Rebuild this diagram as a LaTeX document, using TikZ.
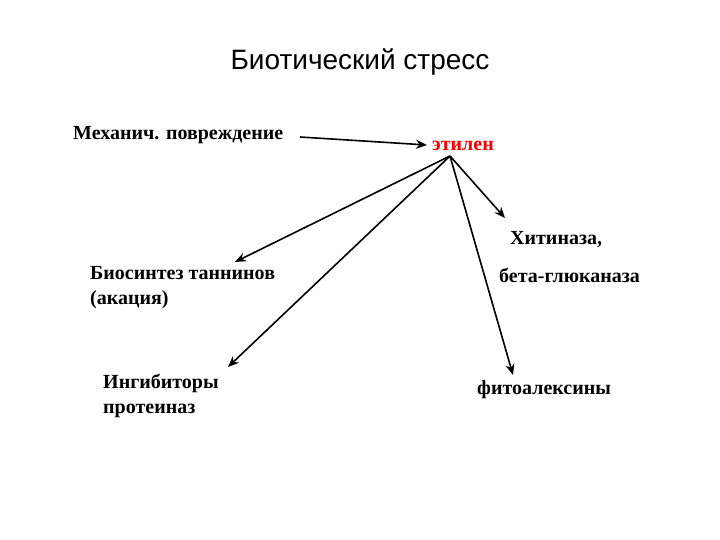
\documentclass[tikz,border=0pt]{standalone}
\usepackage{fontspec}
\setmainfont{Liberation Serif}
\newfontfamily\arialf{Liberation Sans}
\usetikzlibrary{arrows.meta}
\begin{document}
\begin{tikzpicture}[x=1pt,y=-1pt,
  lbl/.style={font=\bfseries\fontsize{20}{25}\selectfont,inner sep=0pt,anchor=west,align=left},
  arr/.style={line width=1.6pt,-{Stealth[length=11pt,width=9pt]}}]
\useasboundingbox (0,0) rectangle (720,540);
\node[font=\arialf\fontsize{28}{32}\selectfont] (t) at (360,62) {Биотический стресс};
\node[lbl] (m) at (73,135) {Механич. повреждение};
\node[lbl,text=red] (e) at (432,146) {этилен};
\coordinate (o) at (450,156);
\coordinate (ms) at (300,137);
\coordinate (me) at (427,145);
\node[lbl] (h) at (510,239) {Хитиназа,};
\node[lbl] (g) at (499,275) {бета-глюканаза};
\node[lbl] (b) at (90,288) {Биосинтез таннинов\\(акация)};
\node[lbl] (i) at (103,396) {Ингибиторы\\протеиназ};
\node[lbl] (f) at (477,390) {фитоалексины};
\coordinate (hb) at (505,218);
\coordinate (bb) at (235,262);
\coordinate (ib) at (228,367);
\coordinate (fb) at (513,375);
\draw[arr] (ms) -- (me);
\draw[arr] (o) -- (hb);
\draw[arr] (o) -- (bb);
\draw[arr] (o) -- (ib);
\draw[arr] (o) -- (fb);
\end{tikzpicture}
\end{document}
